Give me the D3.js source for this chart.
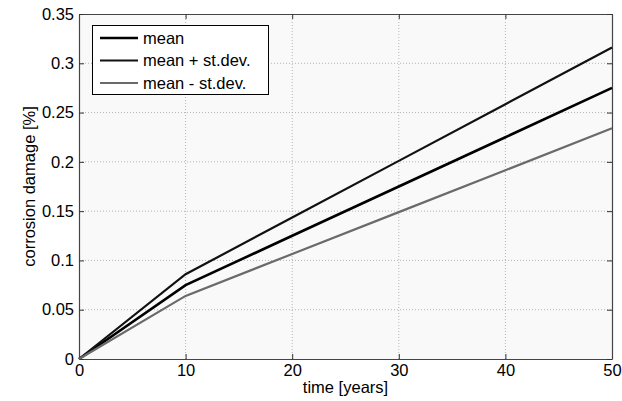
<!DOCTYPE html>
<html>
<head>
<meta charset="utf-8">
<script src="https://cdn.jsdelivr.net/npm/d3@7"></script>
<style>
  body { margin: 0; background: #fff; }
  svg { font-family: "Liberation Sans", Arial, sans-serif; }
</style>
</head>
<body>
<div id="graph"></div>
<script>
var years = [0, 10, 20, 30, 40, 50]
var mean = [0, 0.075, 0.125, 0.175, 0.225, 0.275]
var meanPlus = [0, 0.086, 0.1435, 0.201, 0.2585, 0.316]
var meanMinus = [0, 0.064, 0.1065, 0.149, 0.1915, 0.234]
var xTicks = [0, 10, 20, 30, 40, 50]
var yTicks = [0, 0.05, 0.1, 0.15, 0.2, 0.25, 0.3, 0.35]
var seriesNames = ['mean', 'mean + st.dev.', 'mean - st.dev.']

var width = 622, height = 401
var m = {left: 79, right: 10, top: 14, bottom: 42}

var svg = d3.select('#graph').append('svg')
  .attr('width', width).attr('height', height)

var x = d3.scaleLinear().domain([0, 50]).range([m.left, width - m.right])
var y = d3.scaleLinear().domain([0, 0.35]).range([height - m.bottom, m.top])

// plot background
svg.append('rect')
  .attr('x', x(0)).attr('y', y(0.35))
  .attr('width', x(50) - x(0)).attr('height', y(0) - y(0.35))
  .attr('fill', '#f9f9f9')

// grid
var grid = svg.append('g')
grid.selectAll('.gx').data(xTicks.slice(1, -1)).join('line')
  .attr('x1', d => x(d)).attr('x2', d => x(d))
  .attr('y1', y(0)).attr('y2', y(0.35))
  .attr('stroke', '#b4b4b4').attr('stroke-width', 1).attr('stroke-dasharray', '1,2')
grid.selectAll('.gy').data(yTicks.slice(1, -1)).join('line')
  .attr('y1', d => y(d)).attr('y2', d => y(d))
  .attr('x1', x(0)).attr('x2', x(50))
  .attr('stroke', '#b4b4b4').attr('stroke-width', 1).attr('stroke-dasharray', '1,2')

// axes (MATLAB style: inward ticks on all sides)
var fmt = d => d3.format('')(d)
var ax = svg.append('g').attr('transform', `translate(0,${y(0)})`)
  .call(d3.axisBottom(x).tickValues(xTicks).tickSizeInner(-5).tickSizeOuter(0).tickPadding(5))
var axT = svg.append('g').attr('transform', `translate(0,${y(0.35)})`)
  .call(d3.axisTop(x).tickValues(xTicks).tickSizeInner(-5).tickSizeOuter(0).tickFormat(''))
var ay = svg.append('g').attr('transform', `translate(${x(0)},0)`)
  .call(d3.axisLeft(y).tickValues(yTicks).tickSizeInner(-5).tickSizeOuter(0).tickPadding(5).tickFormat(fmt))
var ayR = svg.append('g').attr('transform', `translate(${x(50)},0)`)
  .call(d3.axisRight(y).tickValues(yTicks).tickSizeInner(-5).tickSizeOuter(0).tickFormat(''))

;[ax, axT, ay, ayR].forEach(g => {
  g.select('.domain').attr('stroke', '#444').attr('stroke-width', 1.2)
  g.selectAll('.tick line').attr('stroke', '#333')
  g.selectAll('.tick text').attr('fill', '#000').style('font-size', '16.5px')
})

// lines
var line = d3.line().x((d, i) => x(years[i])).y(d => y(d))
var styles = [
  {data: mean, stroke: '#000', w: 2.6},
  {data: meanPlus, stroke: '#111', w: 2.2},
  {data: meanMinus, stroke: '#6a6a6a', w: 2.2}
]
svg.append('g').selectAll('path').data(styles).join('path')
  .attr('d', d => line(d.data))
  .attr('fill', 'none')
  .attr('stroke', d => d.stroke)
  .attr('stroke-width', d => d.w)

// legend
var lg = svg.append('g')
lg.append('rect')
  .attr('x', 92.5).attr('y', 25.5).attr('width', 176).attr('height', 69)
  .attr('fill', '#fff').attr('stroke', '#000').attr('stroke-width', 1)
var rows = lg.selectAll('g.row').data(seriesNames).join('g')
  .attr('transform', (d, i) => `translate(0,${38 + i * 22.5})`)
rows.append('line')
  .attr('x1', 100).attr('x2', 138)
  .attr('stroke', (d, i) => styles[i].stroke)
  .attr('stroke-width', (d, i) => styles[i].w)
rows.append('text')
  .attr('x', 143).attr('dy', '0.35em')
  .style('font-size', '16.5px')
  .text(d => d)

// axis labels
svg.append('text')
  .attr('x', (x(0) + x(50)) / 2).attr('y', 393)
  .attr('text-anchor', 'middle').style('font-size', '16.5px')
  .text('time [years]')
svg.append('text')
  .attr('transform', `translate(35,${(y(0) + y(0.35)) / 2}) rotate(-90)`)
  .attr('text-anchor', 'middle').style('font-size', '16.5px')
  .text('corrosion damage [%]')
</script>
</body>
</html>
